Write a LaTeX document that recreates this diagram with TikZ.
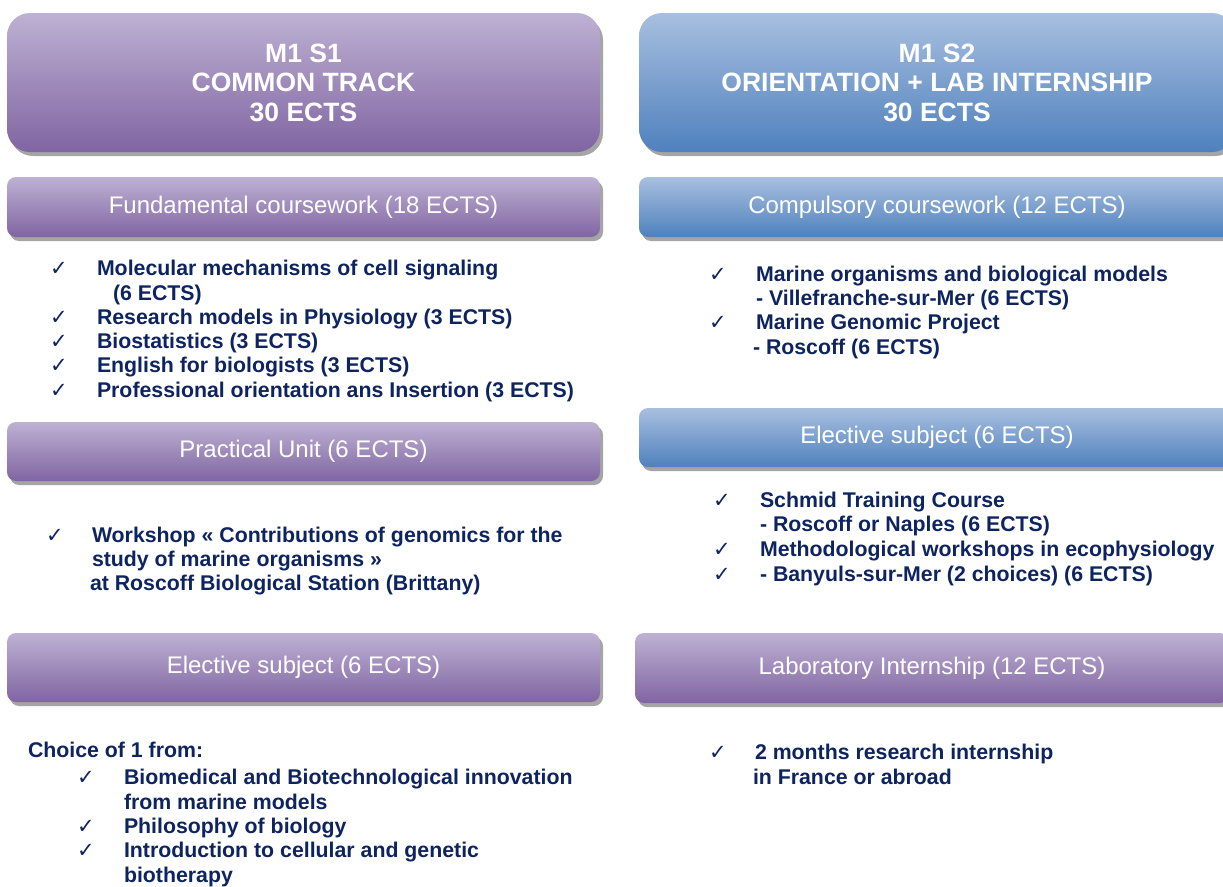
\documentclass[tikz,border=0pt]{standalone}
\usepackage{fontspec}
\setmainfont{Liberation Sans}
\newfontfamily\symfont{DejaVu Sans}
\usetikzlibrary{shadows}
\newcommand{\ckmark}{✓}

\definecolor{purpletop}{RGB}{190,177,211}
\definecolor{purplebot}{RGB}{128,101,162}
\definecolor{bluetop}{RGB}{168,191,223}
\definecolor{bluebot}{RGB}{79,129,189}
\definecolor{shadowgray}{RGB}{165,165,165}
\definecolor{navy}{RGB}{14,36,96}

\tikzset{
  boxbase/.style={rectangle, draw=none, inner sep=0pt, outer sep=0pt,
    text=white, align=center,
    drop shadow={shadow xshift=3pt, shadow yshift=-4pt, fill=shadowgray, opacity=1}},
  purplefill/.style={top color=purpletop, bottom color=purplebot},
  bluefill/.style={top color=bluetop, bottom color=bluebot},
  headbox/.style={boxbase, rounded corners=23pt, minimum height=139pt,
    font=\bfseries\fontsize{26.5}{29.5}\selectfont},
  barbox/.style={boxbase, rounded corners=9pt,
    font=\fontsize{24}{28}\selectfont},
  item/.style={anchor=base west, inner sep=0pt, outer sep=0pt, text=navy,
    font=\bfseries\fontsize{21.3}{24}\selectfont},
  tick/.style={anchor=base west, inner sep=0pt, outer sep=0pt, text=navy,
    font=\symfont\fontsize{21}{21}\selectfont}
}

\begin{document}
\begin{tikzpicture}[x=1pt, y=-1pt]
\useasboundingbox (0,0) rectangle (1223,886);
\clip (0,0) rectangle (1223,886);

% ---------- semester headers ----------
\node[headbox, purplefill, minimum width=593pt] (s1head) at (303.5,82.5)
  {M1 S1\\COMMON TRACK\\30 ECTS};
\node[headbox, bluefill, minimum width=596pt] (s2head) at (937,82.5)
  {M1 S2\\ORIENTATION + LAB INTERNSHIP\\30 ECTS};

% ---------- left column: M1 S1 ----------
\node[barbox, purplefill, minimum width=593pt, minimum height=60pt] (fund) at (303.5,207)
  {Fundamental coursework (18 ECTS)};
\node[tick] (f1c) at (50,275.5) {\ckmark};
\node[item] (f1) at (97,275.5) {Molecular mechanisms of cell signaling};
\node[item] (f1b) at (113,300) {(6 ECTS)};
\node[tick] (f2c) at (50,324.5) {\ckmark};
\node[item] (f2) at (97,324.5) {Research models in Physiology (3 ECTS)};
\node[tick] (f3c) at (50,348.5) {\ckmark};
\node[item] (f3) at (97,348.5) {Biostatistics (3 ECTS)};
\node[tick] (f4c) at (50,372.5) {\ckmark};
\node[item] (f4) at (97,372.5) {English for biologists (3 ECTS)};
\node[tick] (f5c) at (50,397) {\ckmark};
\node[item] (f5) at (97,397) {Professional orientation ans Insertion (3 ECTS)};

\node[barbox, purplefill, minimum width=593pt, minimum height=59pt] (prac) at (303.5,451.5)
  {Practical Unit (6 ECTS)};
\node[tick] (p1c) at (46,542) {\ckmark};
\node[item] (p1) at (92,542) {Workshop « Contributions of genomics for the};
\node[item] (p1b) at (92,566) {study of marine organisms »};
\node[item] (p1c2) at (90,590) {at Roscoff Biological Station (Brittany)};

\node[barbox, purplefill, minimum width=593pt, minimum height=69pt] (elec1) at (303.5,667.5)
  {Elective subject (6 ECTS)};
\node[item] (choice) at (28,757.5) {Choice of 1 from:};
\node[tick] (e1c) at (77,784.5) {\ckmark};
\node[item] (e1) at (124,784.5) {Biomedical and Biotechnological innovation};
\node[item] (e1b) at (124,809) {from marine models};
\node[tick] (e2c) at (77,833.5) {\ckmark};
\node[item] (e2) at (124,833.5) {Philosophy of biology};
\node[tick] (e3c) at (77,857.5) {\ckmark};
\node[item] (e3) at (124,857.5) {Introduction to cellular and genetic};
\node[item] (e3b) at (124,882) {biotherapy};

% ---------- right column: M1 S2 ----------
\node[barbox, bluefill, minimum width=596pt, minimum height=60pt] (comp) at (937,207)
  {Compulsory coursework (12 ECTS)};
\node[tick] (c1c) at (709,281.5) {\ckmark};
\node[item] (c1) at (756,281.5) {Marine organisms and biological models};
\node[item] (c1b) at (756,305.5) {- Villefranche-sur-Mer (6 ECTS)};
\node[tick] (c2c) at (709,329.5) {\ckmark};
\node[item] (c2) at (756,329.5) {Marine Genomic Project};
\node[item] (c2b) at (753,354.5) {- Roscoff (6 ECTS)};

\node[barbox, bluefill, minimum width=596pt, minimum height=59pt] (elec2) at (937,437.5)
  {Elective subject (6 ECTS)};
\node[tick] (r1c) at (713,507.5) {\ckmark};
\node[item] (r1) at (760,507.5) {Schmid Training Course};
\node[item] (r1b) at (760,531.5) {- Roscoff or Naples (6 ECTS)};
\node[tick] (r2c) at (713,556.5) {\ckmark};
\node[item] (r2) at (760,556.5) {Methodological workshops in ecophysiology};
\node[tick] (r3c) at (713,581.5) {\ckmark};
\node[item] (r3) at (760,581.5) {- Banyuls-sur-Mer (2 choices) (6 ECTS)};

\node[barbox, purplefill, minimum width=594pt, minimum height=70pt] (lab) at (932,668)
  {Laboratory Internship (12 ECTS)};
\node[tick] (l1c) at (709,759.5) {\ckmark};
\node[item] (l1) at (755,759.5) {2 months research internship};
\node[item] (l1b) at (753,784.5) {in France or abroad};
\end{tikzpicture}
\end{document}
